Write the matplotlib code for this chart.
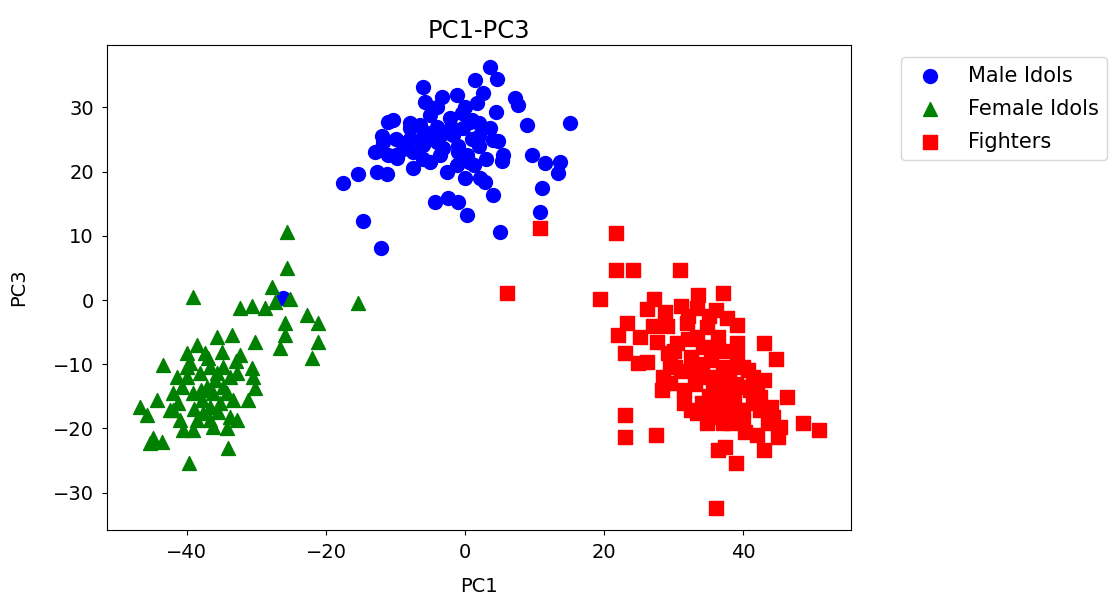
import matplotlib
matplotlib.use("Agg")
import matplotlib.pyplot as plt

male_x = [-12.1, -14.7, -17.6, -15.4, -12.7, -11.2, 5.0, 10.8, 11.1, 9.6, 11.5, 13.7, 13.4, 8.9, 15.0,
          7.2, 7.6, 4.5, 3.5, 4.7, 5.5, 5.3, 0.7, 1.7, 2.6, 4.6, 3.6, 1.4, -1.2, -3.3, -6.0, -5.8,
          -10.4, -11.1, -11.8, -12.2, -11.1, -9.8, -7.5, -7.5, -6.5, -5.0, -4.0, -3.2, -1.7, -0.3,
          0.3, -1.2, 1.2, 2.2, -5.0, -7.9, -2.2, -0.4, -3.6, -6.0, -2.6, -4.3, -2.4, -1.0, 0.3,
          4.0, 2.9, 0.0, 4.0, -10.0, -8.0, -2.0, 1.0, 2.0, -4.0, -9.0, -13.0, -12.0, -9.0, -1.0,
          3.0, -6.0, 0.0, 1.0, -5.0, 2.0, -8.0, -3.0, -1.0, 2.0, -10.0, -6.0, -4.0, 0.5, -26.2]
male_y = [8.1, 12.3, 18.2, 19.6, 19.9, 19.6, 10.6, 13.7, 17.4, 22.6, 21.3, 21.5, 19.8, 27.2, 27.5,
          31.4, 30.3, 29.2, 26.7, 24.7, 22.6, 21.6, 27.7, 30.6, 32.3, 34.4, 36.2, 34.2, 31.9, 31.6,
          33.1, 30.8, 28.0, 27.7, 24.6, 23.3, 22.6, 22.1, 23.0, 20.5, 27.2, 28.8, 24.6, 23.6, 25.7,
          26.7, 22.6, 21.0, 21.0, 19.0, 21.5, 26.7, 28.3, 29.1, 22.6, 24.1, 19.9, 15.2, 15.9, 15.2,
          13.2, 16.3, 18.4, 19.0, 24.9, 25.0, 25.0, 27.0, 25.0, 24.0, 27.0, 24.5, 23.0, 25.5, 23.5,
          24.0, 22.0, 22.0, 30.0, 28.0, 26.0, 27.5, 27.5, 26.0, 23.0, 25.5, 22.5, 25.5, 30.0, 21.5,
          0.3]

female_x = [-25.6, -25.6, -27.8, -25.2, -39.1, -15.4, -32.4, -30.6, -28.8, -27.3, -25.9, -25.9, -26.6,
            -22.7, -21.2, -21.2, -22.0, -35.7, -33.5, -30.2, -43.5, -40.0, -40.0, -37.4, -35.0,
            -32.4, -30.6, -30.5, -30.2, -31.2, -46.8, -44.3, -45.8, -42.4, -42.0, -40.7, -40.0,
            -39.6, -39.1, -37.8, -36.7, -36.7, -38.6, -41.0, -40.6, -39.1, -36.3, -34.2, -33.8,
            -32.8, -33.4, -34.8, -35.7, -36.7, -34.8, -33.8, -32.8, -44.9, -43.6, -45.3, -34.1,
            -39.7, -42.0, -41.3, -37.7, -37.1, -38.1, -36.3, -35.3, -34.2, -38.0, -36.0, -37.0,
            -35.5, -39.0, -41.5, -38.5, -33.0]
female_y = [10.6, 5.0, 2.0, 0.2, 0.5, -0.5, -1.2, -0.9, -1.2, -0.3, -3.6, -5.4, -7.5, -2.3, -3.6,
            -6.5, -9.0, -5.8, -5.4, -6.5, -10.1, -8.2, -10.4, -8.2, -8.1, -8.6, -10.6, -12.0,
            -13.7, -15.6, -16.6, -15.6, -17.9, -17.1, -14.5, -13.5, -12.0, -9.8, -14.5, -15.6,
            -16.6, -18.7, -18.7, -18.7, -20.2, -20.2, -19.8, -19.9, -18.2, -18.7, -15.6, -13.5,
            -11.4, -10.4, -10.4, -12.0, -11.4, -21.5, -22.1, -22.2, -23.0, -25.4, -17.1, -16.0,
            -17.6, -13.5, -11.4, -14.5, -16.0, -14.5, -14.0, -12.5, -9.0, -17.5, -17.0, -12.0,
            -7.0, -9.5]

fighter_x = [10.8, 21.7, 21.7, 24.2, 30.9, 6.0, 19.4, 27.1, 33.5, 37.1, 26.2, 28.8, 33.4, 37.7, 23.3,
             22.0, 25.2, 27.6, 31.9, 34.8, 39.1, 42.9, 44.7, 23.0, 24.9, 26.2, 29.1, 30.2, 32.4,
             34.2, 36.3, 37.1, 39.1, 40.6, 42.0, 40.0, 38.1, 35.7, 34.2, 32.8, 28.5, 28.3, 29.5,
             31.4, 31.4, 32.4, 33.4, 34.8, 36.7, 37.1, 38.6, 40.0, 41.4, 42.4, 43.9, 44.3, 45.3,
             45.0, 46.3, 40.3, 38.1, 36.3, 37.4, 42.9, 39.0, 48.6, 50.8, 23.0, 23.0, 27.5, 36.1,
             29.5, 30.5, 33.4, 36.3, 35.3, 39.1, 40.0, 41.4, 42.9, 37.1, 39.6, 42.4, 43.5, 37.1, 35.3,
             30.0, 32.0, 34.0, 36.0, 38.0, 35.0, 33.0, 31.0, 37.0, 39.0, 41.0, 36.0, 34.0, 38.0,
             40.0, 42.0, 32.0, 29.0, 27.0, 31.0, 35.0, 36.0]
fighter_y = [11.2, 10.4, 4.7, 4.7, 4.7, 1.1, 0.2, 0.2, 0.8, 1.1, -1.4, -1.9, -1.2, -2.8, -3.6, -5.4,
             -5.8, -6.5, -3.6, -4.2, -3.9, -6.7, -9.2, -8.2, -9.8, -9.6, -8.2, -10.4, -8.9, -7.3,
             -7.8, -10.4, -8.9, -10.9, -12.9, -13.5, -14.0, -13.5, -12.0, -10.9, -12.0, -14.0,
             -12.9, -14.0, -16.0, -17.1, -17.6, -19.1, -17.1, -15.1, -15.1, -17.1, -16.0, -15.1,
             -16.6, -18.2, -19.8, -21.3, -15.1, -20.5, -19.1, -23.3, -22.9, -23.3, -25.4, -19.1,
             -20.2, -17.9, -21.3, -21.0, -32.3, -9.8, -6.7, -5.8, -5.8, -9.3, -6.7, -10.4, -12.0,
             -12.4, -12.9, -17.1, -17.1, -19.1, -19.1, -18.2, -8.0, -6.0, -10.0, -12.0, -11.0,
             -15.0, -13.0, -11.0, -8.0, -13.0, -14.0, -16.0, -16.0, -17.0, -19.0, -21.0, -2.5,
             -4.0, -4.0, -1.0, -2.5, -1.5]

plt.rcParams['font.family'] = ['DejaVu Sans']

fig = plt.figure(figsize=(11.2, 5.99), dpi=100)
ax = fig.add_axes([0.0955, 0.1152, 0.6645, 0.8097])

S = 100
ax.scatter(male_x, male_y, c='blue', marker='o', s=S, label='Male Idols')
ax.scatter(female_x, female_y, c='green', marker='^', s=S, label='Female Idols')
ax.scatter(fighter_x, fighter_y, c='red', marker='s', s=S, label='Fighters')

ax.set_xlim(-51.5, 55.5)
ax.set_ylim(-35.8, 39.7)
ax.set_xticks([-40, -20, 0, 20, 40])
ax.set_yticks([-30, -20, -10, 0, 10, 20, 30])
ax.set_title('PC1-PC3', fontsize=17.5, pad=5)
ax.set_xlabel('PC1', fontsize=14, labelpad=11)
ax.set_ylabel('PC3', fontsize=14, labelpad=18)
ax.tick_params(labelsize=14, pad=6)

ax.legend(loc='upper left', bbox_to_anchor=(1.05, 1), fontsize=15, borderaxespad=0.6,
          labelspacing=0.62)

fig.savefig('out.png', dpi=100)
